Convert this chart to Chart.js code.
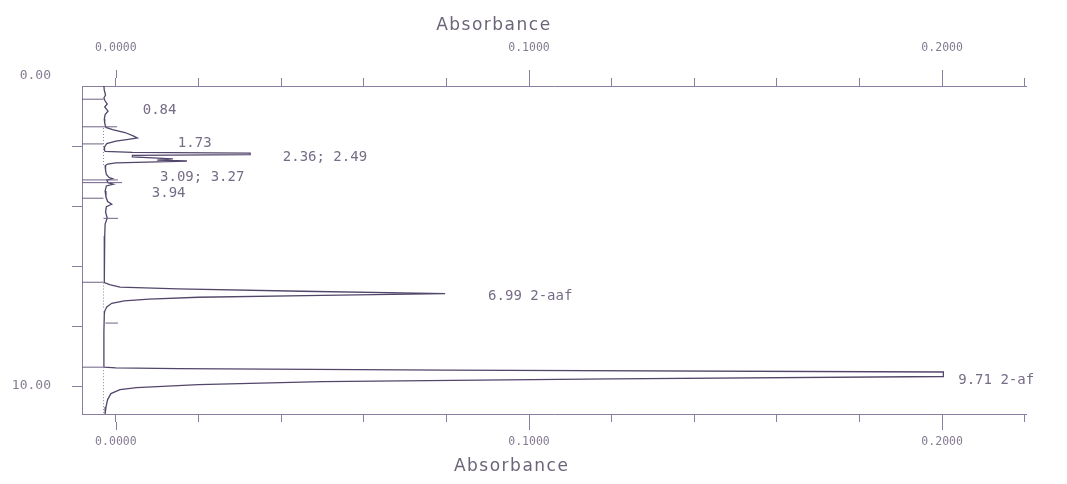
<!DOCTYPE html>
<html>
<head>
<meta charset="utf-8">
<script src="https://cdn.jsdelivr.net/npm/chart.js@4/dist/chart.umd.min.js"></script>
<style>
  html, body { margin: 0; padding: 0; background: #fff; }
  #wrap { width: 1067px; height: 484px; }
</style>
</head>
<body>
<div id="wrap"><canvas id="chrom"></canvas></div>
<script>
// chromatogram trace: retention time (min) and absorbance
const traceTime = [
  0.00, 0.15, 0.30, 0.40, 0.50, 0.60, 0.70, 0.84, 0.95, 1.10, 1.25, 1.38,
  1.45, 1.55, 1.66, 1.73, 1.78, 1.84, 1.92, 2.02, 2.12, 2.18,
  2.21, 2.24, 2.29, 2.31, 2.36, 2.43, 2.47, 2.50, 2.53, 2.56, 2.60, 2.66,
  2.80, 2.95, 3.04, 3.09, 3.14, 3.22, 3.27, 3.33, 3.50, 3.70, 3.85, 3.94,
  4.02, 4.20, 4.40, 4.60, 5.00, 5.50, 6.00, 6.50,
  6.55, 6.62, 6.70, 6.76, 6.84, 6.92, 6.98, 7.04, 7.10, 7.16, 7.24, 7.36, 7.50,
  7.60, 8.20, 8.80, 9.35,
  9.37, 9.39, 9.42, 9.47, 9.53, 9.68, 9.76, 9.85, 9.95, 10.05, 10.12,
  10.25, 10.45, 10.70, 10.93
];
const traceAbs = [
  -0.0029, -0.0028, -0.0025, -0.0029, -0.0026, -0.0021, -0.0027, -0.0019, -0.0026, -0.0028, -0.0027, -0.0024,
  -0.0008, 0.0022, 0.0042, 0.0052, 0.0030, 0.0000, -0.0022, -0.0027, -0.0028, -0.0026,
  0.0040, 0.0325, 0.0325, 0.0040, 0.0040, 0.0138, 0.0100, 0.0172, 0.0100, 0.0000, -0.0020, -0.0026,
  -0.0025, -0.0023, -0.0017, -0.0008, -0.0022, -0.0019, -0.0006, -0.0023, -0.0026, -0.0024, -0.0020, -0.0010,
  -0.0023, -0.0025, -0.0021, -0.0026, -0.0027, -0.0028, -0.0028, -0.0028,
  -0.0028, -0.0015, 0.0010, 0.0150, 0.0450, 0.0797, 0.0500, 0.0200, 0.0080, 0.0020, -0.0010, -0.0022, -0.0027,
  -0.0028, -0.0029, -0.0029, -0.0029,
  -0.0028, 0.0000, 0.0150, 0.0800, 0.2003, 0.2003, 0.1200, 0.0500, 0.0200, 0.0050, 0.0010,
  -0.0012, -0.0020, -0.0024, -0.0026
];

// integration marks (time, start and end absorbance)
const markTime = [0.44, 1.36, 1.93, 3.13, 3.22, 3.74, 4.41, 6.54, 7.90, 9.37];
const markFrom = [-0.0082, -0.0082, -0.0082, -0.0082, -0.0082, -0.0082, -0.0030, -0.0082, -0.0025, -0.0082];
const markTo   = [-0.0030, 0.0003, -0.0030, 0.0005, 0.0015, -0.0030, 0.0005, -0.0030, 0.0005, -0.0030];

// dotted baseline drawn under the peaks
const baseStart = [1.40, 6.55, 9.37];
const baseEnd = [2.70, 7.45, 10.90];
const baseAbs = -0.0030;

// peak labels
const noteText = ["0.84", "1.73", "2.36; 2.49", "3.09; 3.27", "3.94", "6.99 2-aaf", "9.71 2-af"];
const noteTime = [0.84, 1.73, 2.36, 3.09, 3.94, 6.99, 9.71];
const noteAbs = [0.0065, 0.0150, 0.0404, 0.0107, 0.0087, 0.0901, 0.2039];

// axes
const absTicks = [0, 0.02, 0.04, 0.06, 0.08, 0.10, 0.12, 0.14, 0.16, 0.18, 0.20, 0.22];
const absTickLabels = ["0.0000", "", "", "", "", "0.1000", "", "", "", "", "0.2000", ""];
const timeTicks = [0, 2, 4, 6, 8, 10];
const timeTickLabels = ["", "", "", "", "", "10.00"];

const absMin = -0.0082, absMax = 0.2203;
const timeMin = 0, timeMax = 10.93;

const axisColor = "#8a7ea0";
const lineColor = "#52466a";
const textColor = "#766c86";

const tracePoints = traceTime.map((t, i) => ({ x: traceAbs[i], y: t }));

const markPoints = [];
markTime.forEach((t, i) => {
  markPoints.push({ x: markFrom[i], y: t }, { x: markTo[i], y: t }, { x: markTo[i], y: null });
});

const basePoints = [];
baseStart.forEach((s, i) => {
  basePoints.push({ x: baseAbs, y: s }, { x: baseAbs, y: baseEnd[i] }, { x: baseAbs, y: null });
});

// longer tick marks at the labelled absorbance values, peak labels and titles
const decorPlugin = {
  id: "decor",
  afterDraw(chart) {
    const ctx = chart.ctx;
    const area = chart.chartArea;
    const bottomX = chart.scales.x;
    const topX = chart.scales.x2;
    const y = chart.scales.y;

    ctx.save();
    ctx.strokeStyle = axisColor;
    ctx.lineWidth = 1;
    absTicks.forEach((v, i) => {
      if (!absTickLabels[i]) return;
      const px = Math.round(bottomX.getPixelForValue(v)) + 0.5;
      ctx.beginPath();
      ctx.moveTo(px, area.top - 8);
      ctx.lineTo(px, area.top - 16);
      ctx.moveTo(px, area.bottom + 8);
      ctx.lineTo(px, area.bottom + 16);
      ctx.stroke();
    });

    // the 0.00 time label sits a little above the top edge in the original
    ctx.fillStyle = "#857c92";
    ctx.font = "13px 'DejaVu Sans Mono'";
    ctx.textAlign = "right";
    ctx.textBaseline = "middle";
    ctx.fillText("0.00", area.left - 31, y.getPixelForValue(timeTicks[0]) - 10);

    ctx.fillStyle = textColor;
    ctx.font = "14px 'DejaVu Sans Mono'";
    ctx.textAlign = "left";
    const nudge = [-1, 5, 1, -1, -11, 1, 3];
    noteText.forEach((txt, i) => {
      ctx.fillText(txt, bottomX.getPixelForValue(noteAbs[i]), y.getPixelForValue(noteTime[i]) + nudge[i]);
    });

    ctx.fillStyle = "#6c6478";
    ctx.font = "17px 'DejaVu Sans'";
    ctx.letterSpacing = "1.5px";
    ctx.textAlign = "center";
    ctx.fillText("Absorbance", topX.getPixelForValue(0.0915), 26);
    ctx.fillText("Absorbance", bottomX.getPixelForValue(0.0958), 467);
    ctx.restore();
  }
};

const xAxisCommon = (position) => ({
  type: "linear",
  position: position,
  min: absMin,
  max: absMax,
  afterBuildTicks: (scale) => {
    scale.ticks = absTicks.map((v) => ({ value: v }));
  },
  grid: { drawOnChartArea: false, tickLength: 8, color: axisColor, tickColor: axisColor },
  border: { color: axisColor, width: 1 },
  ticks: {
    autoSkip: false,
    maxRotation: 0,
    padding: position === "top" ? 23 : 13,
    color: "#857c92",
    font: { family: "'DejaVu Sans Mono'", size: 11.5 },
    callback: (value, index) => absTickLabels[index]
  }
});

const chart = new Chart(document.getElementById("chrom"), {
  type: "line",
  data: {
    datasets: [
      {
        data: basePoints,
        borderColor: "#8b80a0",
        borderWidth: 1,
        borderDash: [1, 2],
        pointRadius: 0,
        spanGaps: false
      },
      {
        data: markPoints,
        borderColor: "#6e6286",
        borderWidth: 1,
        pointRadius: 0,
        spanGaps: false
      },
      {
        data: tracePoints,
        borderColor: lineColor,
        borderWidth: 1.3,
        pointRadius: 0,
        tension: 0
      }
    ]
  },
  options: {
    responsive: true,
    maintainAspectRatio: false,
    animation: false,
    layout: { padding: { top: 0, right: 41, bottom: 0, left: 0 } },
    plugins: { legend: { display: false }, tooltip: { enabled: false } },
    scales: {
      x: Object.assign(xAxisCommon("bottom"), {
        afterFit: (scale) => { scale.height = 70; }
      }),
      x2: Object.assign(xAxisCommon("top"), {
        afterFit: (scale) => { scale.height = 86; }
      }),
      y: {
        type: "linear",
        position: "left",
        reverse: true,
        min: timeMin,
        max: timeMax,
        afterBuildTicks: (scale) => {
          scale.ticks = timeTicks.map((v) => ({ value: v }));
        },
        afterFit: (scale) => { scale.width = 82; },
        grid: {
          drawOnChartArea: false,
          tickLength: 10,
          color: axisColor,
          tickColor: (c) => (c.tick && c.tick.value === 0 ? "rgba(0,0,0,0)" : axisColor)
        },
        border: { color: axisColor, width: 1 },
        ticks: {
          autoSkip: false,
          padding: 21,
          color: "#857c92",
          font: { family: "'DejaVu Sans Mono'", size: 13 },
          callback: (value, index) => timeTickLabels[index]
        }
      }
    }
  },
  plugins: [decorPlugin]
});
</script>
</body>
</html>
